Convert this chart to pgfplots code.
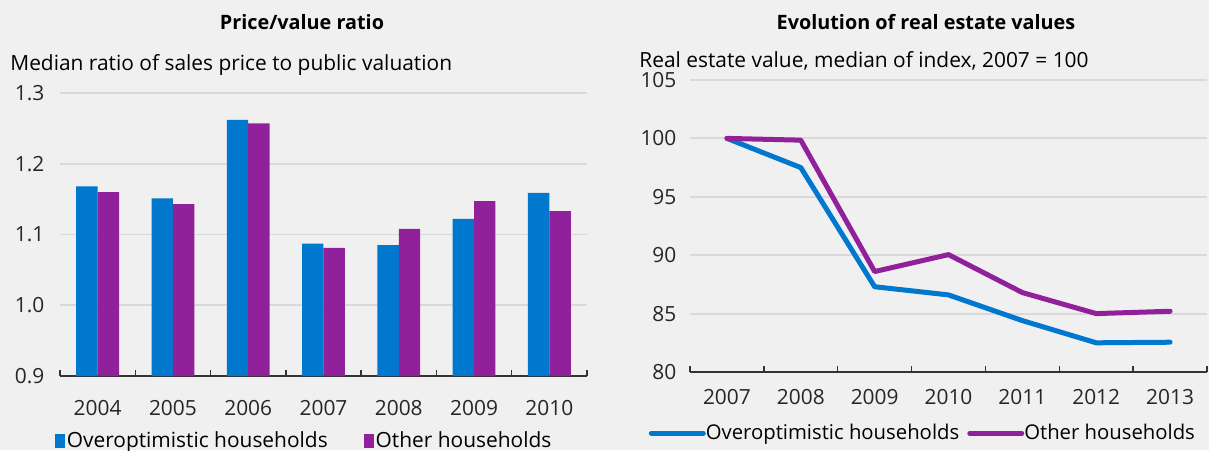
\documentclass[border=0pt]{standalone}
\usepackage{pgfplots}
\pgfplotsset{compat=1.18}
\usepackage{fontspec}
\setmainfont{Open Sans}
\definecolor{nbblue}{HTML}{0078CE}
\definecolor{nbpurple}{HTML}{91219A}
\definecolor{gridgray}{HTML}{D9D9D9}
\definecolor{bg}{HTML}{F0F0F0}
\newcommand{\txt}{\fontsize{10.45}{12}\selectfont}
\begin{document}
\txt
\begin{tikzpicture}
\fill[bg] (0,0) rectangle (604.5pt,225pt);
\path[use as bounding box] (0,0) rectangle (604.5pt,225pt);
\pgfplotsset{
  every axis/.append style={
    /pgf/number format/assume math mode=true,
    scale only axis,
    anchor=south west,
    axis x line=bottom, axis y line=left,
    x axis line style={-, line width=1pt, color=black!80},
    y axis line style={draw=none},
    ytick style={draw=none},
    xtick style={draw=none},
    ymajorgrids, grid style={color=gridgray, line width=0.9pt},
    tick label style={font=\txt, text=black!85},
    xtick={0,...,6},
    extra x ticks={-0.5,0.5,...,6.5},
    extra x tick labels={},
    extra x tick style={xtick style={draw=black!80, line width=0.7pt}, tick align=inside, major tick length=3pt},
    xmin=-0.5, xmax=6.5,
    legend style={draw=none, fill=none, legend columns=2, font=\txt,
      nodes={inner xsep=1pt}},
  }
}
% left panel: price/value ratio
\begin{axis}[at={(30pt,37pt)}, width=263.5pt, height=141.5pt,
  ymin=0.9, ymax=1.3, ytick={0.9,1.0,1.1,1.2,1.3},
  yticklabel style={/pgf/number format/fixed, /pgf/number format/fixed zerofill, /pgf/number format/precision=1, xshift=-2pt},
  xticklabels={2004,2005,2006,2007,2008,2009,2010},
  xticklabel style={yshift=-4pt},
  ybar=0pt, bar width=10.7pt,
  legend style={at={(-0.022,-0.23)}, anchor=west,
    /tikz/every even column/.append style={column sep=17pt}},
  legend image code/.code={\fill[#1] (0pt,-3.5pt) rectangle (5pt,3.5pt);},
]
\addplot[fill=nbblue, draw=none] coordinates
  {(0,1.168) (1,1.151) (2,1.262) (3,1.087) (4,1.085) (5,1.122) (6,1.159)};
\addplot[fill=nbpurple, draw=none] coordinates
  {(0,1.160) (1,1.143) (2,1.257) (3,1.081) (4,1.108) (5,1.147) (6,1.133)};
\legend{Overoptimistic households, Other households}
\end{axis}
% right panel: real estate values
\begin{axis}[at={(345pt,39pt)}, width=258.5pt, height=146pt,
  ymin=80, ymax=105, ytick={80,85,...,105},
  yticklabel style={xshift=-1pt},
  xticklabels={2007,2008,2009,2010,2011,2012,2013},
  xticklabel style={yshift=-3pt},
  legend style={at={(-0.092,-0.21)}, anchor=west,
    font=\fontsize{10.15}{12}\selectfont,
    nodes={inner xsep=0pt},
    /tikz/every even column/.append style={column sep=4pt}},
  legend image code/.code={\draw[#1] (0pt,0pt) -- (26pt,0pt);},
]
\addplot[nbblue, line width=2.5pt, line cap=round, line join=round] coordinates
  {(0,100) (1,97.5) (2,87.3) (3,86.6) (4,84.4) (5,82.5) (6,82.55)};
\addplot[nbpurple, line width=2.5pt, line cap=round, line join=round] coordinates
  {(0,100) (1,99.85) (2,88.6) (3,90.05) (4,86.8) (5,85.0) (6,85.2)};
\legend{Overoptimistic households, Other households}
\end{axis}
\node[font=\bfseries\fontsize{9.9}{11}\selectfont] at (151pt,214pt) {Price/value ratio};
\node[anchor=west, inner sep=0pt] at (5pt,192.5pt) {Median ratio of sales price to public valuation};
\node[font=\bfseries\fontsize{9.9}{11}\selectfont] at (463pt,214pt) {Evolution of real estate values};
\node[anchor=west, inner sep=0pt] at (319.5pt,194.5pt) {Real estate value, median of index, 2007 = 100};
\end{tikzpicture}
\end{document}
